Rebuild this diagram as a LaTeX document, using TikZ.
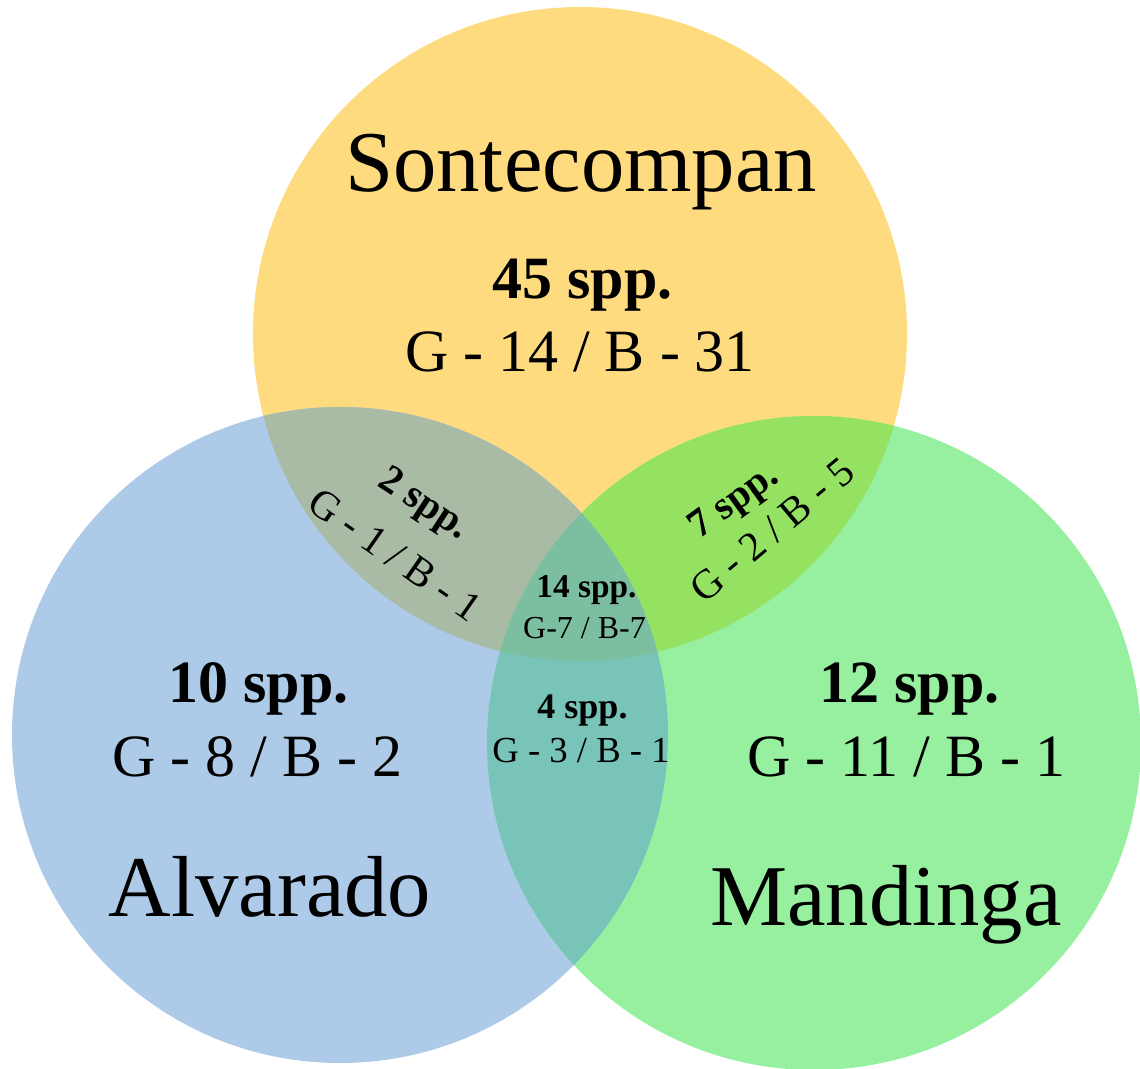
\documentclass[tikz,border=0pt]{standalone}
\usepackage{fontspec}
\setmainfont{Liberation Serif}
\definecolor{cTop}{HTML}{FFDB80}
\definecolor{cLeft}{HTML}{ADCBE8}
\definecolor{cRight}{HTML}{97F0A0}
\definecolor{cTopLeft}{HTML}{A9BAA5}
\definecolor{cTopRight}{HTML}{95E262}
\definecolor{cLeftRight}{HTML}{78C4B8}
\definecolor{cAll}{HTML}{7BBEA0}
\newcommand{\fs}[1]{\fontsize{#1}{1.2\dimexpr#1\relax}\selectfont}
\tikzset{
  lbl/.style={inner sep=0pt, outer sep=0pt, anchor=base, text=black},
  site/.style={lbl, font=\fs{65pt}},
  total/.style={lbl, font=\fs{45pt}\bfseries},
  split/.style={lbl, font=\fs{45pt}},
}
\begin{document}
\begin{tikzpicture}[x=0.75pt, y=-0.75pt]
\useasboundingbox (0,0) rectangle (1140,1069);
% circle centres and radii
\coordinate (cs) at (580,334);
\coordinate (ca) at (340,735);
\coordinate (cm) at (814,743);
\def\Rs{245.25pt}
\def\Ra{246pt}
\def\Rm{245.25pt}
% single sets
\fill[cTop] (cs) circle[radius=\Rs];
\fill[cLeft] (ca) circle[radius=\Ra];
\fill[cRight] (cm) circle[radius=\Rm];
% pairwise overlaps
\begin{scope}
  \clip (cs) circle[radius=\Rs];
  \fill[cTopLeft] (ca) circle[radius=\Ra];
\end{scope}
\begin{scope}
  \clip (cs) circle[radius=\Rs];
  \fill[cTopRight] (cm) circle[radius=\Rm];
\end{scope}
\begin{scope}
  \clip (ca) circle[radius=\Ra];
  \fill[cLeftRight] (cm) circle[radius=\Rm];
\end{scope}
% triple overlap
\begin{scope}
  \clip (cs) circle[radius=\Rs];
  \clip (ca) circle[radius=\Ra];
  \fill[cAll] (cm) circle[radius=\Rm];
\end{scope}

% Sontecompan
\node[site]  (sname)  at (581,192) {Sontecompan};
\node[total] (stotal) at (582.5,299) {45 spp.};
\node[split] (ssplit) at (580,372) {G - 14 / B - 31};
% Alvarado
\node[total] (atotal) at (258.5,703) {10 spp.};
\node[split] (asplit) at (257.5,777) {G - 8 / B - 2};
\node[site]  (aname)  at (270,917) {Alvarado};
% Mandinga
\node[total] (mtotal) at (909.5,703) {12 spp.};
\node[split] (msplit) at (906.5,777) {G - 11 / B - 1};
\node[site]  (mname)  at (886,925) {Mandinga};
% Sontecompan & Alvarado
\node[lbl, anchor=center, rotate=-33, font=\fs{30pt}\bfseries] (satotal) at (423,505) {2 spp.};
\node[lbl, anchor=center, rotate=-35, font=\fs{31pt}] (sasplit) at (395,555) {G - 1 / B - 1};
% Sontecompan & Mandinga
\node[lbl, anchor=center, rotate=36, font=\fs{30pt}\bfseries] (smtotal) at (735,503) {7 spp.};
\node[lbl, anchor=center, rotate=40, font=\fs{31pt}] (smsplit) at (772,530) {G - 2 / B - 5};
% all three
\node[lbl, font=\fs{25pt}\bfseries] (alltotal) at (586.5,598) {14 spp.};
\node[lbl, font=\fs{24pt}] (allsplit) at (584.5,639) {G-7 / B-7};
% Alvarado & Mandinga
\node[lbl, font=\fs{27pt}\bfseries] (amtotal) at (582.5,719) {4 spp.};
\node[lbl, font=\fs{27.5pt}] (amsplit) at (581,763) {G - 3 / B - 1};
\end{tikzpicture}
\end{document}
